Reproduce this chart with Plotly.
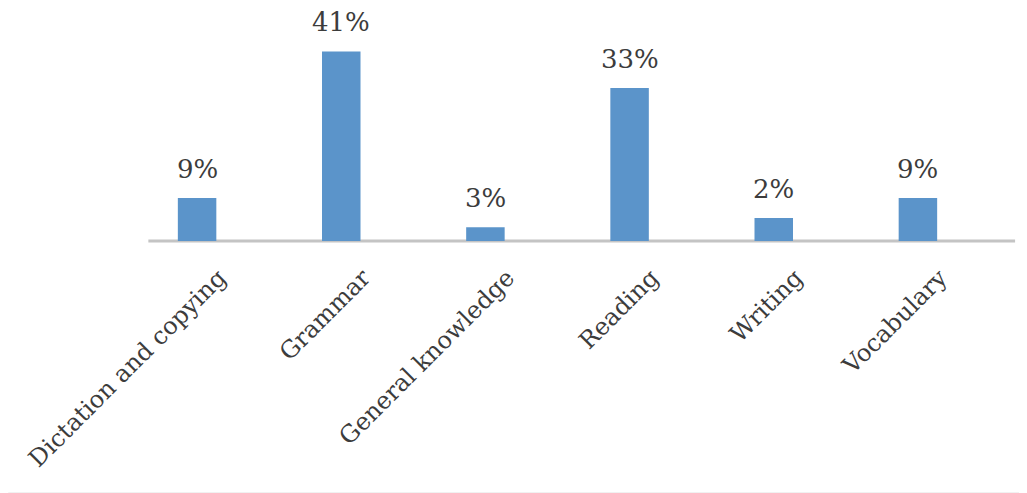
import plotly.graph_objects as go

categories = ["Dictation and copying", "Grammar", "General knowledge", "Reading", "Writing", "Vocabulary"]
bar_heights = [9.3, 41.0, 3.0, 33.1, 5.0, 9.3]
value_labels = ["9%", "41%", "3%", "33%", "2%", "9%"]

BAR_COLOR = "#5B94CA"
TEXT_COLOR = "#3c3c3c"
FONT = "DejaVu Serif"

fig = go.Figure()
fig.add_trace(go.Bar(
    x=categories,
    y=bar_heights,
    marker=dict(color=BAR_COLOR, line=dict(width=0)),
    hoverinfo="skip",
))

for cat, h, lab in zip(categories, bar_heights, value_labels):
    fig.add_annotation(
        x=cat, y=h, text=lab, showarrow=False,
        xanchor="center", yanchor="bottom", yshift=12,
        font=dict(family=FONT, size=26, color=TEXT_COLOR),
    )

# category axis line (drawn as a shape so it can extend asymmetrically)
fig.add_shape(type="line", xref="paper", yref="paper",
              x0=0.027, x1=1.029, y0=0, y1=0,
              line=dict(color="#c4c4c4", width=3), layer="below")

# faint frame line at the bottom of the image
fig.add_shape(type="line", xref="paper", yref="paper",
              x0=-0.135, x1=1.05, y0=-1.21, y1=-1.21,
              line=dict(color="#efefef", width=1))

fig.update_layout(
    width=1019, height=485,
    margin=dict(l=117, r=37, t=25, b=252, autoexpand=False),
    paper_bgcolor="white", plot_bgcolor="white",
    showlegend=False,
    bargap=0.733,
    font=dict(family=FONT, color=TEXT_COLOR),
)
fig.update_xaxes(
    automargin=False,
    showline=False,
    showgrid=False, ticks="",
    tickangle=-45,
    ticklabelstandoff=17,
    ticklabelshift=22,
    tickfont=dict(family=FONT, size=24, color=TEXT_COLOR),
    range=[-0.5, 5.5],
)
fig.update_yaxes(
    visible=False, range=[0, 45], showgrid=False, zeroline=False,
)

fig.write_html("out.html")
